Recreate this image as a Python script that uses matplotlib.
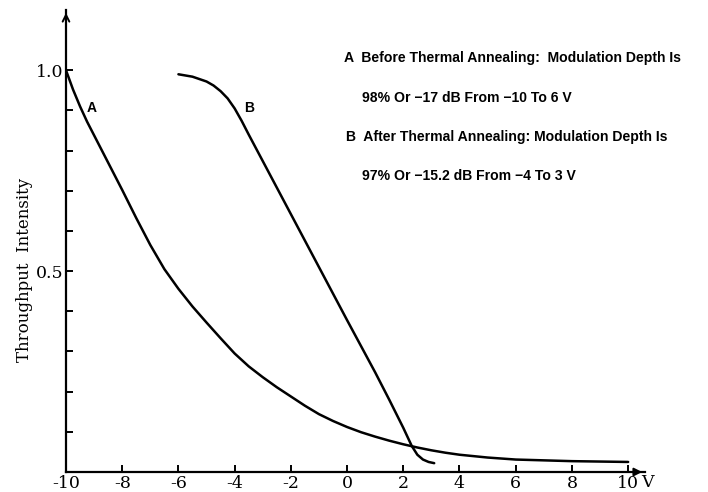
import numpy as np
import matplotlib.pyplot as plt

# curve A: before thermal annealing
volts_a = [-10.0, -9.75, -9.5, -9.25, -9.0, -8.5, -8.0, -7.5, -7.0, -6.5, -6.0, -5.5,
           -5.0, -4.5, -4.0, -3.5, -3.0, -2.5, -2.0, -1.5, -1.0, -0.5, 0.0, 0.5,
           1.0, 1.5, 2.0, 2.5, 3.0, 3.5, 4.0, 5.0, 6.0, 7.0, 8.0, 9.0, 10.0]
inten_a = [1.000, 0.952, 0.910, 0.872, 0.838, 0.770, 0.702, 0.632, 0.565, 0.505, 0.456, 0.412,
           0.372, 0.333, 0.295, 0.263, 0.236, 0.211, 0.188, 0.165, 0.144, 0.127, 0.112, 0.099,
           0.088, 0.078, 0.069, 0.061, 0.054, 0.048, 0.043, 0.036, 0.031, 0.029, 0.027, 0.026, 0.025]

# curve B: after thermal annealing
volts_b = [-6.0, -5.5, -5.0, -4.75, -4.5, -4.25, -4.0, -3.75, -3.5, -3.0, -2.0, -1.0,
           0.0, 1.0, 1.5, 2.0, 2.3, 2.5, 2.7, 2.9, 3.1]
inten_b = [0.990, 0.984, 0.972, 0.962, 0.948, 0.930, 0.905, 0.874, 0.840, 0.774, 0.642, 0.510,
           0.378, 0.248, 0.180, 0.110, 0.065, 0.043, 0.031, 0.025, 0.022]

x_ticks = [-10, -8, -6, -4, -2, 0, 2, 4, 6, 8, 10]
y_ticks = [0.1, 0.2, 0.3, 0.4, 0.5, 0.6, 0.7, 0.8, 0.9, 1.0]
y_labels = ["", "", "", "", "0.5", "", "", "", "", "1.0"]

notes = ["A  Before Thermal Annealing:  Modulation Depth Is",
         "98% Or \u221217 dB From \u221210 To 6 V",
         "B  After Thermal Annealing: Modulation Depth Is",
         "97% Or \u221215.2 dB From \u22124 To 3 V"]

fig = plt.figure(figsize=(7.08, 4.92), dpi=100)
ax = fig.add_axes([66 / 708, 20 / 492, 579 / 708, 462 / 492])

ax.plot(volts_a, inten_a, color="black", lw=1.8, solid_capstyle="round", solid_joinstyle="round")
ax.plot(volts_b, inten_b, color="black", lw=1.8, solid_capstyle="round", solid_joinstyle="round")

ax.set_xlim(-10, 10.6)
ax.set_ylim(0, 1.15)

for s in ["top", "right"]:
    ax.spines[s].set_visible(False)
ax.spines["left"].set_linewidth(1.6)
ax.spines["bottom"].set_linewidth(1.6)

# axis arrow heads
ax.annotate("", xy=(1.0, 0), xytext=(0.97, 0), xycoords="axes fraction",
            arrowprops=dict(arrowstyle="-|>", color="black", lw=1.4, mutation_scale=12))
ax.annotate("", xy=(0, 1.0), xytext=(0, 0.97), xycoords="axes fraction",
            arrowprops=dict(arrowstyle="->", color="black", lw=1.4, mutation_scale=12))

serif = "DejaVu Serif"
ax.set_xticks(x_ticks)
ax.set_xticklabels([str(t) for t in x_ticks], family=serif, fontsize=12.5)
ax.set_yticks(y_ticks)
ax.set_yticklabels(y_labels, family=serif, fontsize=12.5)
ax.tick_params(direction="in", length=5, width=1.4, pad=2)
ax.text(10.45, -0.005, "V", family=serif, fontsize=12.5, va="top", ha="left")

ax.text(-9.25, 0.895, "A", family="Liberation Sans", fontsize=10, fontweight="bold")
ax.text(-3.65, 0.895, "B", family="Liberation Sans", fontsize=10, fontweight="bold")

note_y = [58, 98, 137, 176]
note_x = [344, 362, 346, 362]
for t, xp, yp in zip(notes, note_x, note_y):
    fig.text(xp / 708, 1 - yp / 492, t, family="Liberation Sans", fontsize=10.1,
             fontweight="bold", va="center", ha="left")

fig.text(25 / 708, 1 - 270 / 492, "Throughput  Intensity", family=serif, fontsize=12,
         rotation=90, va="center", ha="center")

fig.savefig("out.png", dpi=100)
